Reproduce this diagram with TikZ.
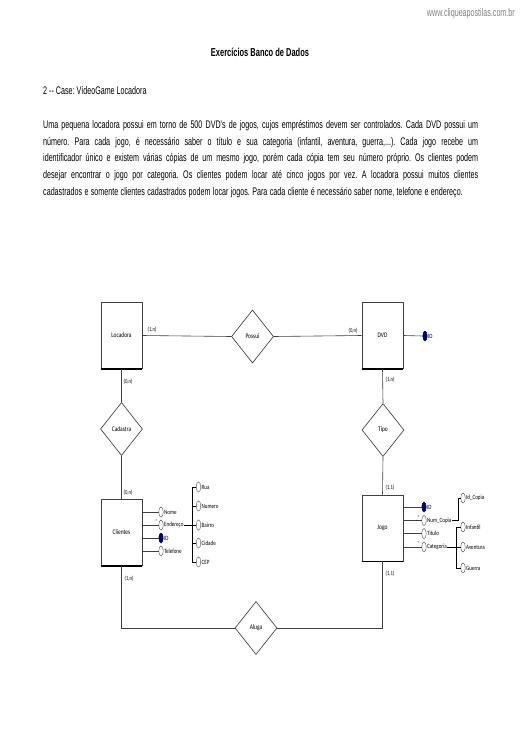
\documentclass[tikz,border=0pt]{standalone}
\usepackage{fontspec}
\setmainfont{Liberation Sans}
\newfontfamily\bodyfont{Liberation Sans}[FakeStretch=0.65]
\newfontfamily\erfont{Carlito}[FakeStretch=0.78]
\usetikzlibrary{shapes.geometric}
\frenchspacing

\begin{document}
\begin{tikzpicture}[
    x=1pt, y=-1pt,
    entity/.style={draw=black!75, line width=0.6pt, minimum width=41pt, minimum height=66pt, inner sep=0pt, font=\erfont\fontsize{7}{8}\selectfont},
    rel/.style={diamond, draw=black!80, line width=0.6pt, minimum width=42pt, minimum height=53pt, inner sep=0pt, font=\erfont\fontsize{7}{8}\selectfont},
    attr/.style={ellipse, draw=black!70, line width=0.4pt, fill=white, minimum width=4.5pt, minimum height=10pt, inner sep=0pt},
    key/.style={attr, fill=blue!45!black, draw=blue!45!black},
    lbl/.style={font=\erfont\fontsize{6.5}{7}\selectfont, inner sep=0.5pt, anchor=west},
    card/.style={font=\erfont\fontsize{6}{7}\selectfont, inner sep=0pt},
    multmark/.style={font=\fontsize{4}{4}\selectfont, text=blue!45!black, inner sep=0pt},
    link/.style={draw=black!75, line width=0.6pt},
    body/.style={font=\bodyfont\fontsize{11}{16.7}\selectfont, inner sep=0pt, text width=435pt}
]
    \useasboundingbox (0,0) rectangle (520,736);

    % Page header and text
    \node[font=\bodyfont\fontsize{11}{12}\selectfont, text=black!50, anchor=east, inner sep=0pt] (site) at (515,14) {www.cliqueapostilas.com.br};
    \node[font=\bodyfont\bfseries\fontsize{11.5}{12}\selectfont, inner sep=0pt] (titulo) at (260,52) {Exercícios Banco de Dados};
    \node[font=\bodyfont\fontsize{11}{12}\selectfont, anchor=west, inner sep=0pt] (case) at (43,91) {2 -- Case: VídeoGame Locadora};
    \node[body, anchor=north west] (texto) at (43,120) {%
        \spaceskip=2.4pt plus 4pt minus 1.2pt\relax
        \hbox to 435pt{Uma pequena locadora possui em torno de 500 DVD's de jogos, cujos empréstimos devem ser controlados. Cada DVD possui um}
        \hbox to 435pt{número. Para cada jogo, é necessário saber o título e sua categoria (infantil, aventura, guerra,...). Cada jogo recebe um}
        \hbox to 435pt{identificador único e existem várias cópias de um mesmo jogo, porém cada cópia tem seu número próprio. Os clientes podem}
        \hbox to 435pt{desejar encontrar o jogo por categoria. Os clientes podem locar até cinco jogos por vez. A locadora possui muitos clientes}
        \hbox{cadastrados e somente clientes cadastrados podem locar jogos. Para cada cliente é necessário saber nome, telefone e endereço.}};

    % Entities
    \node[entity] (loc) at (121.5,335.5) {Locadora};
    \node[entity] (dvd) at (382.5,335.5) {DVD};
    \node[entity] (cli) at (121.5,532.5) {Clientes};
    \node[entity] (jogo) at (382.5,528) {Jogo};
    \draw[line width=1.6pt] (loc.south west) -- (loc.south east);
    \draw[line width=1.6pt] (dvd.south west) -- (dvd.south east);
    \draw[line width=1.6pt] (cli.south west) -- (cli.south east);
    \draw[line width=1.6pt] (jogo.south west) -- (jogo.south east);

    % Relationships
    \node[rel] (possui) at (252.5,336.5) {Possui};
    \node[rel] (cadastra) at (121.5,429) {Cadastra};
    \node[rel] (tipo) at (383,430) {Tipo};
    \node[rel] (aluga) at (256,628) {Aluga};

    \draw[link] (loc.east) -- (possui.west);
    \draw[link] (possui.east) -- (dvd.west);
    \draw[link] (loc.south) -- (cadastra.north);
    \draw[link] (cadastra.south) -- (cli.north);
    \draw[link] (dvd.south) -- (tipo.north);
    \draw[link] (tipo.south) -- (jogo.north);
    \draw[link] (cli.south) |- (aluga.west);
    \draw[link] (jogo.south) |- (aluga.east);

    % Cardinalities
    \node[card] (c1) at (152,330) {(1,n)};
    \node[card] (c2) at (353,331) {(0,n)};
    \node[card] (c3) at (128,382) {(0,n)};
    \node[card] (c4) at (128,493) {(0,n)};
    \node[card] (c5) at (129,579) {(1,n)};
    \node[card] (c6) at (390,380) {(1,n)};
    \node[card] (c7) at (390,488) {(1,1)};
    \node[card] (c8) at (390,574) {(1,1)};

    % DVD attribute
    \node[key] (dvdID) at (425,336) {};
    \node[lbl] at (dvdID.east) {ID};
    \draw[link] (dvd.east) -- (dvdID.west);

    % Clientes attributes
    \node[attr] (cliNome) at (161,512) {};
    \node[attr] (cliEnd) at (161,525) {};
    \node[key] (cliID) at (161,538) {};
    \node[attr] (cliTel) at (161,551) {};
    \node[lbl] (tNome) at (cliNome.east) {Nome};
    \node[lbl] (tEnd) at (cliEnd.east) {Endereço};
    \node[lbl] (tID) at (cliID.east) {ID};
    \node[lbl] (tTel) at (cliTel.east) {Telefone};
    \draw[link] (cli.east |- cliNome) -- (cliNome.west);
    \draw[link] (cli.east |- cliEnd) -- (cliEnd.west);
    \draw[link] (cli.east |- cliID) -- (cliID.west);
    \draw[link] (cli.east |- cliTel) -- (cliTel.west);
    \node[multmark] at (156.5,521) {*};

    % Endereco composite
    \coordinate (endBar) at (192,525);
    \node[attr] (rua) at (198.5,487) {};
    \node[attr] (numero) at (198.5,506) {};
    \node[attr] (bairro) at (198.5,525) {};
    \node[attr] (cidade) at (198.5,543) {};
    \node[attr] (cep) at (198.5,562) {};
    \node[lbl] at (rua.east) {Rua};
    \node[lbl] at (numero.east) {Numero};
    \node[lbl] at (bairro.east) {Bairro};
    \node[lbl] at (cidade.east) {Cidade};
    \node[lbl] at (cep.east) {CEP};
    \draw[line width=0.4pt] (tEnd.east) -- (endBar);
    \draw[line width=0.4pt] (rua.west) -| (endBar |- cep) -- (cep.west);
    \draw[line width=0.4pt] (endBar |- numero) -- (numero.west);
    \draw[line width=0.4pt] (endBar |- bairro) -- (bairro.west);
    \draw[line width=0.4pt] (endBar |- cidade) -- (cidade.west);

    % Jogo attributes
    \node[key] (jogoID) at (424,507) {};
    \node[attr] (jogoNum) at (424,520.5) {};
    \node[attr] (jogoTit) at (424,533.5) {};
    \node[attr] (jogoCat) at (424,547) {};
    \node[lbl] (tJID) at (jogoID.east) {ID};
    \node[lbl] (tNum) at (jogoNum.east) {Num\_Copia};
    \node[lbl] (tTit) at (jogoTit.east) {Titulo};
    \node[lbl] (tCat) at (jogoCat.east) {Categoria};
    \draw[link] (jogo.east |- jogoID) -- (jogoID.west);
    \draw[link] (jogo.east |- jogoNum) -- (jogoNum.west);
    \draw[link] (jogo.east |- jogoTit) -- (jogoTit.west);
    \draw[link] (jogo.east |- jogoCat) -- (jogoCat.west);
    \node[multmark] at (418.5,517) {*};
    \node[multmark] at (418.5,543.5) {*};

    % Num_Copia composite
    \coordinate (numBar) at (458,520.5);
    \node[attr] (idcopia) at (463,498) {};
    \node[lbl] at (idcopia.east) {Id\_Copia};
    \draw[line width=0.4pt] (tNum.east) -- (numBar) |- (idcopia.west);

    % Categoria composite
    \coordinate (catBar) at (456,547);
    \node[attr] (infantil) at (463,527) {};
    \node[attr] (aventura) at (463,547) {};
    \node[attr] (guerra) at (463,568) {};
    \node[lbl] at (infantil.east) {Infantil};
    \node[lbl] at (aventura.east) {Aventura};
    \node[lbl] at (guerra.east) {Guerra};
    \draw[line width=0.4pt] (tCat.east) -- (catBar);
    \draw[line width=0.4pt] (infantil.west) -| (catBar |- guerra) -- (guerra.west);
    \draw[line width=0.4pt] (catBar) -- (aventura.west);
\end{tikzpicture}
\end{document}
